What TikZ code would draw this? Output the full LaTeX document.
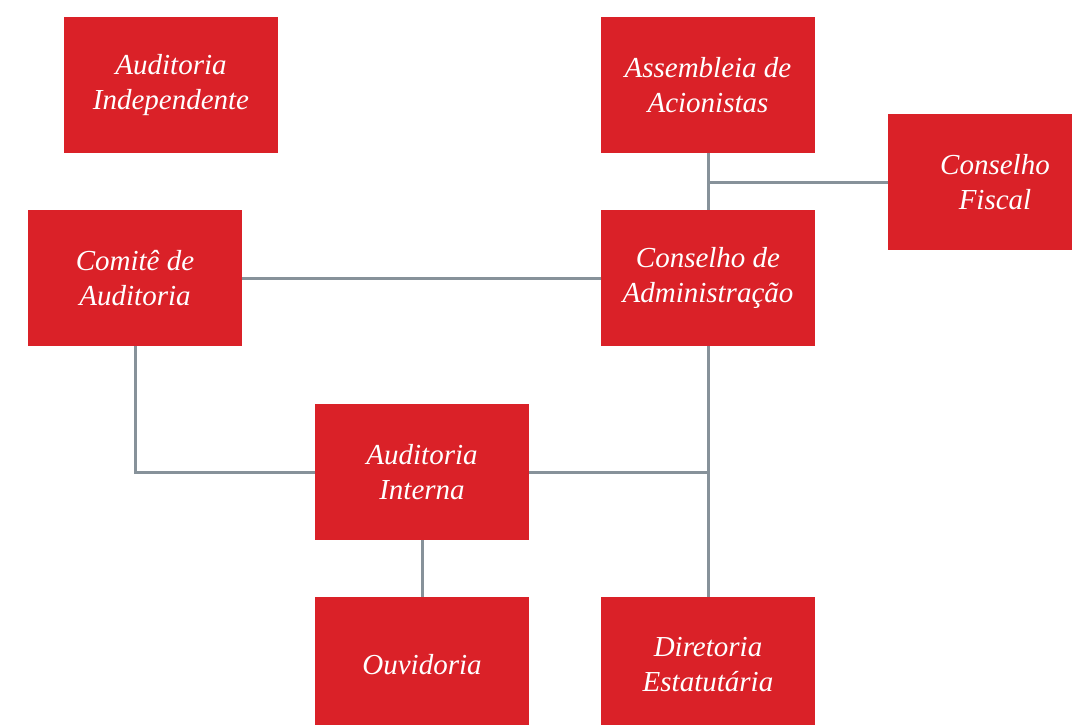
\documentclass[tikz,border=0pt]{standalone}
\usepackage{fontspec}
\setmainfont{Liberation Serif}
\definecolor{boxred}{HTML}{DA2128}
\definecolor{linegray}{HTML}{87929A}
\begin{document}
\begin{tikzpicture}[x=1pt,y=-1pt,
  orgbox/.style={fill=boxred, draw=none, minimum width=214pt, minimum height=136pt, inner sep=0pt, text=white, align=center, font=\itshape\fontsize{29}{35}\selectfont},
  link/.style={draw=linegray, line width=3pt}]
\clip (0,0) rectangle (1072,725);
\useasboundingbox (0,0) rectangle (1072,725);
\node[orgbox] (ai) at (171,85) {Auditoria\\Independente};
\node[orgbox] (aa) at (708,85) {Assembleia de\\Acionistas};
\node[orgbox] (cf) at (995,182) {Conselho\\Fiscal};
\node[orgbox] (ca) at (135,278) {Comitê de\\Auditoria};
\node[orgbox] (cad) at (708,278) {Conselho de\\Administração};
\node[orgbox] (ain) at (422,472) {Auditoria\\Interna};
\node[orgbox] (ou) at (422,665) {Ouvidoria};
\node[orgbox] (de) at (708,665) {Diretoria\\Estatutária};
\coordinate (j1) at (708,182);
\coordinate (j2) at (708,472);
\draw[link] (aa.south) -- (cad.north);
\draw[link] (j1) -- (cf.west);
\draw[link] (ca.east) -- (cad.west);
\draw[link] (ca.south) |- (ain.west);
\draw[link] (ain.east) -- (j2);
\draw[link] (cad.south) -- (de.north);
\draw[link] (ain.south) -- (ou.north);
\end{tikzpicture}
\end{document}
